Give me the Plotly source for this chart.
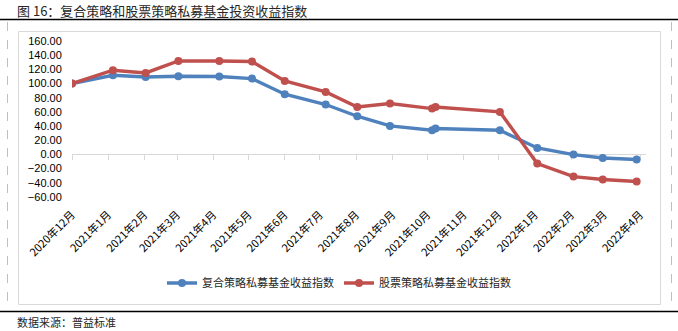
import plotly.graph_objects as go

# Observation dates and index values
dates = ["2020-12-01", "2021-01-05", "2021-02-02", "2021-03-02", "2021-04-06",
         "2021-05-04", "2021-06-01", "2021-07-06", "2021-08-02", "2021-08-30",
         "2021-10-05", "2021-10-08", "2021-12-02", "2022-01-03", "2022-02-03",
         "2022-02-28", "2022-03-29"]
composite = [100.0, 111.7, 109.3, 110.3, 110.0, 107.0, 84.9, 70.4, 53.9, 40.2,
             34.1, 36.5, 34.1, 9.2, -0.2, -4.9, -7.2]
equity = [100.0, 118.8, 115.0, 131.9, 131.9, 131.0, 103.7, 88.2, 67.0, 71.8,
          64.7, 67.0, 60.0, -12.8, -31.2, -35.4, -38.2]

# Monthly axis ticks
tick_dates = ["2020-12-01", "2021-01-01", "2021-02-01", "2021-03-01", "2021-04-01",
              "2021-05-01", "2021-06-01", "2021-07-01", "2021-08-01", "2021-09-01",
              "2021-10-01", "2021-11-01", "2021-12-01", "2022-01-01", "2022-02-01",
              "2022-03-01", "2022-04-01"]
tick_labels = ["2020年12月", "2021年1月", "2021年2月", "2021年3月", "2021年4月",
               "2021年5月", "2021年6月", "2021年7月", "2021年8月", "2021年9月",
               "2021年10月", "2021年11月", "2021年12月", "2022年1月", "2022年2月",
               "2022年3月", "2022年4月"]
y_ticks = [-60, -40, -20, 0, 20, 40, 60, 80, 100, 120, 140, 160]

series_names = ["复合策略私募基金收益指数", "股票策略私募基金收益指数"]
colors = ["#4F81BD", "#C0504D"]

W, H = 678, 331
ML, MT, PW, PH = 72, 41, 574, 156
MR, MB = W - ML - PW, H - MT - PH
X_RANGE = ["2020-12-01", "2022-04-06"]
FONT = "Noto Sans CJK SC"
NUM_FONT = "Liberation Sans"


def px_x(p):
    return (p - ML) / PW


def px_y(p):
    return (MT + PH - p) / PH


fig = go.Figure()
for name, vals, col in zip(series_names, [composite, equity], colors):
    fig.add_trace(go.Scatter(
        x=dates, y=vals, name=name, mode="lines+markers",
        line=dict(color=col, width=3.4),
        marker=dict(color=col, size=8),
    ))

# invisible helper trace binding the label axis
fig.add_trace(go.Scatter(
    x=dates, y=composite, xaxis="x2", yaxis="y", mode="markers",
    marker=dict(opacity=0), showlegend=False, hoverinfo="skip",
))

zero_pos = (0 - y_ticks[0]) / (y_ticks[-1] - y_ticks[0])

shapes = []
# black rules under the title and above the source line
for yy in (19.5, 311.5):
    shapes.append(dict(type="line", xref="paper", yref="paper",
                       x0=px_x(0), x1=px_x(W), y0=px_y(yy), y1=px_y(yy),
                       line=dict(color="#000000", width=1.6)))
# dashed side guides
for xx in (7.5, 671.5):
    shapes.append(dict(type="line", xref="paper", yref="paper",
                       x0=px_x(xx), x1=px_x(xx), y0=px_y(22), y1=px_y(309),
                       line=dict(color="#BFBFBF", width=1, dash="dash")))
# chart frame
shapes.append(dict(type="rect", xref="paper", yref="paper",
                   x0=px_x(18.5), x1=px_x(660.5), y0=px_y(31.5), y1=px_y(304.5),
                   line=dict(color="#D9D9D9", width=1), layer="below"))

fig.update_layout(
    width=W, height=H,
    margin=dict(l=ML, r=MR, t=MT, b=MB, pad=0),
    paper_bgcolor="white", plot_bgcolor="white",
    font=dict(family=FONT, size=11, color="#000000"),
    showlegend=True,
    legend=dict(orientation="h", x=px_x(339), xanchor="center",
                y=px_y(283), yanchor="middle",
                font=dict(family=FONT, size=11, color="#262626"),
                itemwidth=30, tracegroupgap=0),
    xaxis=dict(
        type="date", range=X_RANGE, anchor="free", position=zero_pos,
        tickmode="array", tickvals=tick_dates, showticklabels=False,
        showline=True, linecolor="#D9D9D9", linewidth=1,
        ticks="outside", ticklen=5, tickcolor="#D9D9D9", tickwidth=1,
        showgrid=False, zeroline=False, layer="below traces",
    ),
    xaxis2=dict(
        type="date", range=X_RANGE, overlaying="x", anchor="y", side="bottom",
        tickmode="array", tickvals=tick_dates, ticktext=tick_labels,
        tickangle=-45, ticks="outside", ticklen=6, tickcolor="rgba(0,0,0,0)",
        showline=False, showgrid=False, zeroline=False,
        tickfont=dict(family=FONT, size=11, color="#000000"),
    ),
    yaxis=dict(
        range=[y_ticks[0], y_ticks[-1]], tickmode="array", tickvals=y_ticks,
        tickformat=".2f", showgrid=False, zeroline=False, showline=False,
        ticks="outside", ticklen=7, tickcolor="rgba(0,0,0,0)",
        tickfont=dict(family=NUM_FONT, size=11, color="#000000"),
    ),
    shapes=shapes,
    annotations=[
        dict(text="图 16：复合策略和股票策略私募基金投资收益指数",
             xref="paper", yref="paper", x=px_x(15), y=px_y(10),
             xanchor="left", yanchor="middle", showarrow=False,
             font=dict(family=FONT, size=13, color="#262626")),
        dict(text="数据来源：普益标准",
             xref="paper", yref="paper", x=px_x(15), y=px_y(322),
             xanchor="left", yanchor="middle", showarrow=False,
             font=dict(family=FONT, size=11, color="#262626")),
    ],
)

fig.write_html("out.html")
